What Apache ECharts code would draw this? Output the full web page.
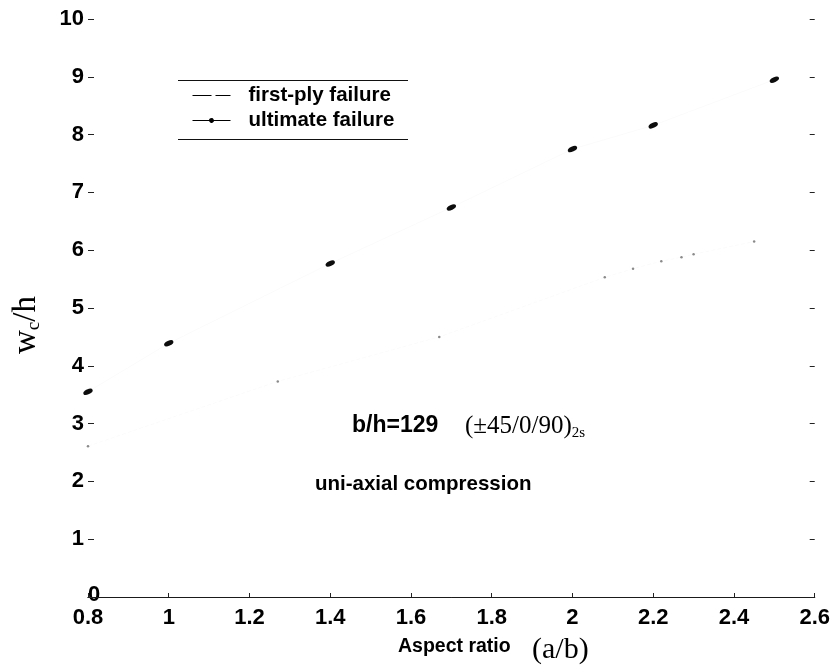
<!DOCTYPE html>
<html>
<head>
<meta charset="utf-8">
<script src="https://cdn.jsdelivr.net/npm/echarts@6/dist/echarts.min.js"></script>
<style>
  html, body { margin: 0; padding: 0; background: #fff; }
  #chart { width: 833px; height: 669px; }
</style>
</head>
<body>
<div id="chart"></div>
<script>
// Aspect ratio a/b against critical deflection w_c/h
const xTicks = [0.8, 1.0, 1.2, 1.4, 1.6, 1.8, 2.0, 2.2, 2.4, 2.6];
const yTicks = [0, 1, 2, 3, 4, 5, 6, 7, 8, 9, 10];

const aspectUltimate = [0.8, 1.0, 1.4, 1.7, 2.0, 2.2, 2.5];
const wcUltimate = [3.55, 4.39, 5.77, 6.74, 7.75, 8.16, 8.95];

const aspectFirstPly = [0.8, 1.27, 1.67, 2.08, 2.15, 2.22, 2.27, 2.30, 2.45];
const wcFirstPly = [2.61, 3.73, 4.50, 5.53, 5.68, 5.81, 5.88, 5.93, 6.15];

const seriesNames = ['first-ply failure', 'ultimate failure'];

const SANS = '"Liberation Sans", Arial, sans-serif';
const SERIF = '"Liberation Serif", "Times New Roman", serif';

const pairs = (xs, ys) => xs.map((x, i) => [x, ys[i]]);
const fmt = v => String(parseFloat(Number(v).toFixed(1)));

const chart = echarts.init(document.getElementById('chart'), null, { renderer: 'canvas' });

const tickLabel = { color: '#000', fontFamily: SANS, fontWeight: 'bold', fontSize: 22 };

chart.setOption({
  animation: false,
  backgroundColor: '#fff',
  grid: { left: 88, right: 18, top: 19, bottom: 72, containLabel: false },
  xAxis: [
    {
      type: 'value', position: 'bottom',
      min: xTicks[0], max: xTicks[xTicks.length - 1], interval: 0.2,
      axisLine: { show: true, lineStyle: { color: '#1a1a1a', width: 1 } },
      axisTick: { show: true, inside: true, length: 4, lineStyle: { color: '#222' } },
      axisLabel: Object.assign({ margin: 10, formatter: fmt }, tickLabel),
      splitLine: { show: false }
    },
    {
      type: 'value', position: 'top',
      min: xTicks[0], max: xTicks[xTicks.length - 1], interval: 0.2,
      axisLine: { show: true, lineStyle: { color: '#1a1a1a', width: 1 } },
      axisTick: { show: false },
      axisLabel: { show: false },
      splitLine: { show: false }
    }
  ],
  yAxis: [
    {
      type: 'value', position: 'left',
      min: yTicks[0], max: yTicks[yTicks.length - 1], interval: 1,
      axisLine: { show: false },
      axisTick: { show: true, inside: true, length: 6, lineStyle: { color: '#222' } },
      axisLabel: Object.assign({ margin: 4, formatter: v => (v === 0 ? '' : String(v)) }, tickLabel),
      splitLine: { show: false }
    },
    {
      type: 'value', position: 'right',
      min: yTicks[0], max: yTicks[yTicks.length - 1], interval: 1,
      axisLine: { show: false },
      axisTick: { show: true, inside: true, length: 5, lineStyle: { color: '#222' } },
      axisLabel: { show: false },
      splitLine: { show: false }
    }
  ],
  legend: {
    orient: 'vertical',
    left: 192, top: 85,
    padding: 0,
    itemWidth: 38, itemHeight: 6, itemGap: 4,
    selectedMode: false,
    textStyle: { color: '#000', fontFamily: SANS, fontWeight: 'bold', fontSize: 20.5, lineHeight: 21, padding: [0, 0, 0, 13] },
    data: [
      { name: seriesNames[0], lineStyle: { color: '#000', opacity: 1, width: 1, type: [19, 4] }, itemStyle: { opacity: 0 } },
      { name: seriesNames[1], lineStyle: { color: '#000', opacity: 1, width: 1, type: 'solid' }, itemStyle: { color: '#000', opacity: 1 } }
    ]
  },
  series: [
    {
      name: seriesNames[0],
      type: 'line',
      data: pairs(aspectFirstPly, wcFirstPly),
      symbol: 'circle', symbolSize: 2.5,
      itemStyle: { color: '#8a8a8a' },
      lineStyle: { color: '#000', width: 1, type: 'dashed', opacity: 0.02 },
      z: 2
    },
    {
      name: seriesNames[1],
      type: 'line',
      data: pairs(aspectUltimate, wcUltimate),
      symbol: 'circle', symbolSize: [10, 5], symbolRotate: 25,
      itemStyle: { color: '#0d0d0d' },
      lineStyle: { color: '#000', width: 1, opacity: 0.02 },
      z: 3
    }
  ],
  graphic: [
    // legend frame rules
    { type: 'line', shape: { x1: 178, y1: 80.5, x2: 408, y2: 80.5 }, style: { stroke: '#111', lineWidth: 1 }, silent: true },
    { type: 'line', shape: { x1: 178, y1: 139.5, x2: 408, y2: 139.5 }, style: { stroke: '#111', lineWidth: 1 }, silent: true },
    // in-plot annotations
    { type: 'text', left: 352, top: 414, style: { text: 'b/h=129', fill: '#000', font: 'bold 23px ' + SANS } },
    {
      type: 'text', left: 465, top: 412,
      style: {
        text: '{t|(±45/0/90)}{s|2s}',
        rich: {
          t: { fontFamily: SERIF, fontSize: 25, fill: '#000', lineHeight: 30 },
          s: { fontFamily: SERIF, fontSize: 15, fill: '#000', lineHeight: 30, padding: [14, 0, 0, 0] }
        }
      }
    },
    { type: 'text', left: 315, top: 474, style: { text: 'uni-axial compression', fill: '#000', font: 'bold 20.5px ' + SANS } },
    // axis titles
    { type: 'text', left: 398, top: 637, style: { text: 'Aspect ratio', fill: '#000', font: 'bold 19.5px ' + SANS } },
    { type: 'text', left: 532, top: 635, style: { text: '(a/b)', fill: '#000', font: '30px ' + SERIF } },
    {
      type: 'text', x: 10, y: 354, rotation: Math.PI / 2,
      style: {
        text: '{w|w}{c|c}{h|/h}',
        rich: {
          w: { fontFamily: SERIF, fontSize: 33, fill: '#000', lineHeight: 33 },
          c: { fontFamily: SERIF, fontSize: 19, fill: '#000', lineHeight: 33, padding: [15, 0, 0, 0] },
          h: { fontFamily: SERIF, fontSize: 33, fill: '#000', lineHeight: 33 }
        }
      }
    },
    // zero label of the vertical axis sits just inside the corner
    { type: 'text', left: 88, top: 584, style: { text: '0', fill: '#000', font: 'bold 22px ' + SANS } }
  ]
});
</script>
</body>
</html>
